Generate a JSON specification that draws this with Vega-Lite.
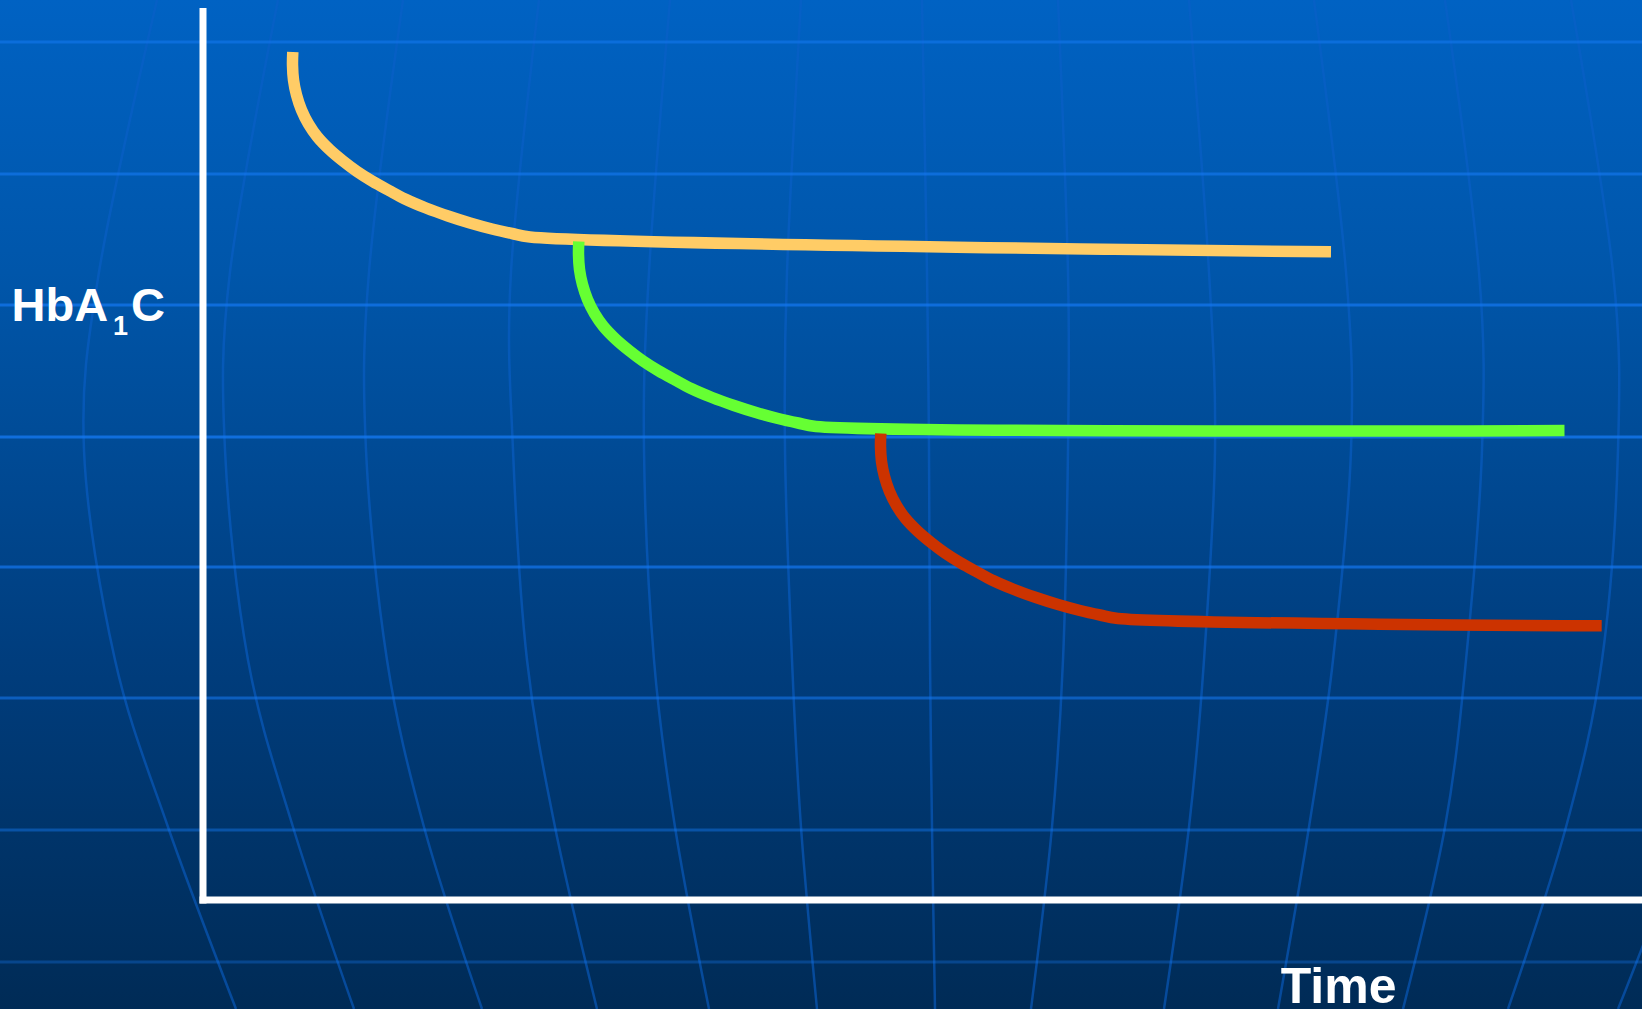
{
  "$schema": "https://vega.github.io/schema/vega-lite/v6.json",
  "width": 1642,
  "height": 1009,
  "autosize": {"type": "none"},
  "padding": 0,
  "background": "#003d7d",
  "config": {"view": {"stroke": null}},
  "datasets": {
    "bg": [{"t": -2.2, "t2": 14.6, "h": -1.25, "h2": 9.2}],
    "hgrid": [{"h": 8.58}, {"h": 7.26}, {"h": 5.95}, {"h": 4.63}, {"h": 3.33}, {"h": 2.02}, {"h": 0.70}, {"h": -0.62}],
    "meridians": [
      {"m": 1, "k": 0, "t": -0.46, "h": 9.0}, {"m": 1, "k": 1, "t": -1.04, "h": 6.28}, {"m": 1, "k": 2, "t": -1.19, "h": 4.5}, {"m": 1, "k": 3, "t": -0.88, "h": 2.4}, {"m": 1, "k": 4, "t": -0.35, "h": 0.73}, {"m": 1, "k": 5, "t": 0.33, "h": -1.09},
      {"m": 2, "k": 0, "t": 0.75, "h": 9.0}, {"m": 2, "k": 1, "t": 0.27, "h": 6.28}, {"m": 2, "k": 2, "t": 0.22, "h": 4.5}, {"m": 2, "k": 3, "t": 0.45, "h": 2.4}, {"m": 2, "k": 4, "t": 0.90, "h": 0.73}, {"m": 2, "k": 5, "t": 1.51, "h": -1.09},
      {"m": 3, "k": 0, "t": 2.00, "h": 9.0}, {"m": 3, "k": 1, "t": 1.66, "h": 6.28}, {"m": 3, "k": 2, "t": 1.63, "h": 4.5}, {"m": 3, "k": 3, "t": 1.84, "h": 2.4}, {"m": 3, "k": 4, "t": 2.21, "h": 0.73}, {"m": 3, "k": 5, "t": 2.79, "h": -1.09},
      {"m": 4, "k": 0, "t": 3.36, "h": 9.0}, {"m": 4, "k": 1, "t": 3.08, "h": 6.28}, {"m": 4, "k": 2, "t": 3.10, "h": 4.5}, {"m": 4, "k": 3, "t": 3.24, "h": 2.4}, {"m": 4, "k": 4, "t": 3.52, "h": 0.73}, {"m": 4, "k": 5, "t": 3.94, "h": -1.09},
      {"m": 5, "k": 0, "t": 4.67, "h": 9.0}, {"m": 5, "k": 1, "t": 4.46, "h": 6.28}, {"m": 5, "k": 2, "t": 4.41, "h": 4.5}, {"m": 5, "k": 3, "t": 4.51, "h": 2.4}, {"m": 5, "k": 4, "t": 4.72, "h": 0.73}, {"m": 5, "k": 5, "t": 5.06, "h": -1.09},
      {"m": 6, "k": 0, "t": 5.98, "h": 9.0}, {"m": 6, "k": 1, "t": 5.84, "h": 6.28}, {"m": 6, "k": 2, "t": 5.82, "h": 4.5}, {"m": 6, "k": 3, "t": 5.89, "h": 2.4}, {"m": 6, "k": 4, "t": 5.98, "h": 0.73}, {"m": 6, "k": 5, "t": 6.14, "h": -1.09},
      {"m": 7, "k": 0, "t": 7.19, "h": 9.0}, {"m": 7, "k": 1, "t": 7.24, "h": 6.28}, {"m": 7, "k": 2, "t": 7.26, "h": 4.5}, {"m": 7, "k": 3, "t": 7.27, "h": 2.4}, {"m": 7, "k": 4, "t": 7.29, "h": 0.73}, {"m": 7, "k": 5, "t": 7.32, "h": -1.09},
      {"m": 8, "k": 0, "t": 8.55, "h": 9.0}, {"m": 8, "k": 1, "t": 8.65, "h": 6.28}, {"m": 8, "k": 2, "t": 8.65, "h": 4.5}, {"m": 8, "k": 3, "t": 8.60, "h": 2.4}, {"m": 8, "k": 4, "t": 8.49, "h": 0.73}, {"m": 8, "k": 5, "t": 8.28, "h": -1.09},
      {"m": 9, "k": 0, "t": 9.86, "h": 9.0}, {"m": 9, "k": 1, "t": 10.06, "h": 6.28}, {"m": 9, "k": 2, "t": 10.12, "h": 4.5}, {"m": 9, "k": 3, "t": 10.01, "h": 2.4}, {"m": 9, "k": 4, "t": 9.86, "h": 0.73}, {"m": 9, "k": 5, "t": 9.61, "h": -1.09},
      {"m": 10, "k": 0, "t": 11.11, "h": 9.0}, {"m": 10, "k": 1, "t": 11.43, "h": 6.28}, {"m": 10, "k": 2, "t": 11.48, "h": 4.5}, {"m": 10, "k": 3, "t": 11.30, "h": 2.4}, {"m": 10, "k": 4, "t": 11.06, "h": 0.73}, {"m": 10, "k": 5, "t": 10.75, "h": -1.09},
      {"m": 11, "k": 0, "t": 12.42, "h": 9.0}, {"m": 11, "k": 1, "t": 12.76, "h": 6.28}, {"m": 11, "k": 2, "t": 12.79, "h": 4.5}, {"m": 11, "k": 3, "t": 12.63, "h": 2.4}, {"m": 11, "k": 4, "t": 12.42, "h": 0.73}, {"m": 11, "k": 5, "t": 12.00, "h": -1.09},
      {"m": 12, "k": 0, "t": 13.68, "h": 9.0}, {"m": 12, "k": 1, "t": 14.10, "h": 6.28}, {"m": 12, "k": 2, "t": 14.15, "h": 4.5}, {"m": 12, "k": 3, "t": 13.99, "h": 2.4}, {"m": 12, "k": 4, "t": 13.63, "h": 0.73}, {"m": 12, "k": 5, "t": 13.05, "h": -1.09},
      {"m": 13, "k": 0, "t": 14.93, "h": 9.0}, {"m": 13, "k": 1, "t": 15.35, "h": 6.28}, {"m": 13, "k": 2, "t": 15.41, "h": 4.5}, {"m": 13, "k": 3, "t": 15.25, "h": 2.4}, {"m": 13, "k": 4, "t": 14.83, "h": 0.73}, {"m": 13, "k": 5, "t": 14.15, "h": -1.09}
    ],
    "axes": [
      {"t": 0, "t2": 0, "h": -0.035, "h2": 8.92},
      {"t": -0.035, "t2": 14.6, "h": 0, "h2": 0}
    ],
    "curves": [
      {"series": "first", "i": 0, "t": 0.898, "h": 8.48},
      {"series": "first", "i": 1, "t": 0.895, "h": 8.35},
      {"series": "first", "i": 2, "t": 0.905, "h": 8.20},
      {"series": "first", "i": 3, "t": 0.935, "h": 8.05},
      {"series": "first", "i": 4, "t": 0.985, "h": 7.90},
      {"series": "first", "i": 5, "t": 1.055, "h": 7.76},
      {"series": "first", "i": 6, "t": 1.145, "h": 7.63},
      {"series": "first", "i": 7, "t": 1.27, "h": 7.50},
      {"series": "first", "i": 8, "t": 1.40, "h": 7.39},
      {"series": "first", "i": 9, "t": 1.54, "h": 7.285},
      {"series": "first", "i": 10, "t": 1.69, "h": 7.19},
      {"series": "first", "i": 11, "t": 1.86, "h": 7.095},
      {"series": "first", "i": 12, "t": 2.02, "h": 7.01},
      {"series": "first", "i": 13, "t": 2.23, "h": 6.92},
      {"series": "first", "i": 14, "t": 2.45, "h": 6.84},
      {"series": "first", "i": 15, "t": 2.67, "h": 6.77},
      {"series": "first", "i": 16, "t": 2.89, "h": 6.71},
      {"series": "first", "i": 17, "t": 3.09, "h": 6.665},
      {"series": "first", "i": 18, "t": 3.27, "h": 6.63},
      {"series": "first", "i": 19, "t": 11.28, "h": 6.482},
      {"series": "second", "i": 0, "t": 3.758, "h": 6.585},
      {"series": "second", "i": 1, "t": 3.755, "h": 6.455},
      {"series": "second", "i": 2, "t": 3.765, "h": 6.305},
      {"series": "second", "i": 3, "t": 3.795, "h": 6.155},
      {"series": "second", "i": 4, "t": 3.845, "h": 6.005},
      {"series": "second", "i": 5, "t": 3.915, "h": 5.865},
      {"series": "second", "i": 6, "t": 4.005, "h": 5.735},
      {"series": "second", "i": 7, "t": 4.13, "h": 5.605},
      {"series": "second", "i": 8, "t": 4.26, "h": 5.495},
      {"series": "second", "i": 9, "t": 4.40, "h": 5.39},
      {"series": "second", "i": 10, "t": 4.55, "h": 5.295},
      {"series": "second", "i": 11, "t": 4.72, "h": 5.20},
      {"series": "second", "i": 12, "t": 4.88, "h": 5.115},
      {"series": "second", "i": 13, "t": 5.09, "h": 5.025},
      {"series": "second", "i": 14, "t": 5.31, "h": 4.945},
      {"series": "second", "i": 15, "t": 5.53, "h": 4.875},
      {"series": "second", "i": 16, "t": 5.75, "h": 4.815},
      {"series": "second", "i": 17, "t": 5.95, "h": 4.77},
      {"series": "second", "i": 18, "t": 6.13, "h": 4.735},
      {"series": "second", "i": 19, "t": 13.615, "h": 4.695},
      {"series": "third", "i": 0, "t": 6.778, "h": 4.665},
      {"series": "third", "i": 1, "t": 6.775, "h": 4.535},
      {"series": "third", "i": 2, "t": 6.785, "h": 4.385},
      {"series": "third", "i": 3, "t": 6.815, "h": 4.235},
      {"series": "third", "i": 4, "t": 6.865, "h": 4.085},
      {"series": "third", "i": 5, "t": 6.935, "h": 3.945},
      {"series": "third", "i": 6, "t": 7.025, "h": 3.815},
      {"series": "third", "i": 7, "t": 7.15, "h": 3.685},
      {"series": "third", "i": 8, "t": 7.28, "h": 3.575},
      {"series": "third", "i": 9, "t": 7.42, "h": 3.47},
      {"series": "third", "i": 10, "t": 7.57, "h": 3.375},
      {"series": "third", "i": 11, "t": 7.74, "h": 3.28},
      {"series": "third", "i": 12, "t": 7.90, "h": 3.195},
      {"series": "third", "i": 13, "t": 8.11, "h": 3.105},
      {"series": "third", "i": 14, "t": 8.33, "h": 3.025},
      {"series": "third", "i": 15, "t": 8.55, "h": 2.955},
      {"series": "third", "i": 16, "t": 8.77, "h": 2.895},
      {"series": "third", "i": 17, "t": 8.97, "h": 2.85},
      {"series": "third", "i": 18, "t": 9.15, "h": 2.815},
      {"series": "third", "i": 19, "t": 13.987, "h": 2.742}
    ],
    "bigLabels": [
      {"label": "HbA", "t": -1.914, "h": 5.79},
      {"label": "C", "t": -0.72, "h": 5.79}
    ],
    "subLabels": [{"label": "1", "t": -0.90, "h": 5.65}],
    "timeLabel": [{"label": "Time", "t": 10.777, "h": -1.03}]
  },
  "layer": [
    {
      "data": {"name": "bg"},
      "mark": {
        "type": "rect",
        "clip": true,
        "color": {
          "gradient": "linear",
          "x1": 0, "y1": 0, "x2": 0, "y2": 1,
          "stops": [
            {"offset": 0.019, "color": "#0062C3"},
            {"offset": 0.279, "color": "#0056AA"},
            {"offset": 0.651, "color": "#003D7D"},
            {"offset": 0.985, "color": "#002B56"}
          ]
        }
      },
      "encoding": {
        "x": {"field": "t", "type": "quantitative", "scale": {"domain": [-2.03, 14.39], "nice": false, "zero": false}, "axis": null},
        "x2": {"field": "t2"},
        "y": {"field": "h", "type": "quantitative", "scale": {"domain": [-1.09, 9.0], "nice": false, "zero": false}, "axis": null},
        "y2": {"field": "h2"}
      }
    },
    {
      "data": {"name": "meridians"},
      "mark": {"type": "line", "clip": true, "interpolate": "cardinal", "stroke": "#0A5FC8", "strokeOpacity": 0.6, "strokeWidth": 2.5},
      "encoding": {
        "x": {"field": "t", "type": "quantitative", "scale": {"domain": [-2.03, 14.39], "nice": false, "zero": false}, "axis": null},
        "y": {"field": "h", "type": "quantitative", "scale": {"domain": [-1.09, 9.0], "nice": false, "zero": false}, "axis": null},
        "detail": {"field": "m", "type": "nominal"},
        "order": {"field": "k", "type": "quantitative"}
      }
    },
    {
      "data": {"name": "hgrid"},
      "mark": {"type": "rule", "stroke": "#1478F0", "strokeWidth": 3},
      "encoding": {
        "y": {"field": "h", "type": "quantitative", "scale": {"domain": [-1.09, 9.0], "nice": false, "zero": false}, "axis": null},
        "strokeOpacity": {"field": "h", "type": "quantitative", "scale": {"type": "linear", "domain": [-1, 4.5, 9], "range": [0.3, 0.8, 0.55]}, "legend": null}
      }
    },
    {
      "data": {"name": "axes"},
      "mark": {"type": "rule", "stroke": "#FFFFFF", "strokeWidth": 7, "clip": true},
      "encoding": {
        "x": {"field": "t", "type": "quantitative", "scale": {"domain": [-2.03, 14.39], "nice": false, "zero": false}, "axis": null},
        "x2": {"field": "t2"},
        "y": {"field": "h", "type": "quantitative", "scale": {"domain": [-1.09, 9.0], "nice": false, "zero": false}, "axis": null},
        "y2": {"field": "h2"}
      }
    },
    {
      "data": {"name": "curves"},
      "mark": {"type": "line", "strokeWidth": 11.5, "interpolate": "catmull-rom", "strokeCap": "butt"},
      "encoding": {
        "x": {"field": "t", "type": "quantitative", "scale": {"domain": [-2.03, 14.39], "nice": false, "zero": false}, "axis": null},
        "y": {"field": "h", "type": "quantitative", "scale": {"domain": [-1.09, 9.0], "nice": false, "zero": false}, "axis": null},
        "order": {"field": "i", "type": "quantitative"},
        "color": {"field": "series", "type": "nominal", "scale": {"domain": ["first", "second", "third"], "range": ["#FFCC66", "#66FF33", "#CC3300"]}, "legend": null}
      }
    },
    {
      "data": {"name": "bigLabels"},
      "mark": {"type": "text", "font": "Liberation Sans", "fontWeight": "bold", "fontSize": 47, "color": "#FFFFFF", "align": "left", "baseline": "alphabetic"},
      "encoding": {
        "x": {"field": "t", "type": "quantitative", "scale": {"domain": [-2.03, 14.39], "nice": false, "zero": false}, "axis": null},
        "y": {"field": "h", "type": "quantitative", "scale": {"domain": [-1.09, 9.0], "nice": false, "zero": false}, "axis": null},
        "text": {"field": "label", "type": "nominal"}
      }
    },
    {
      "data": {"name": "subLabels"},
      "mark": {"type": "text", "font": "Liberation Sans", "fontWeight": "bold", "fontSize": 27, "color": "#FFFFFF", "align": "left", "baseline": "alphabetic"},
      "encoding": {
        "x": {"field": "t", "type": "quantitative", "scale": {"domain": [-2.03, 14.39], "nice": false, "zero": false}, "axis": null},
        "y": {"field": "h", "type": "quantitative", "scale": {"domain": [-1.09, 9.0], "nice": false, "zero": false}, "axis": null},
        "text": {"field": "label", "type": "nominal"}
      }
    },
    {
      "data": {"name": "timeLabel"},
      "mark": {"type": "text", "font": "Liberation Sans", "fontWeight": "bold", "fontSize": 50, "color": "#FFFFFF", "align": "left", "baseline": "alphabetic"},
      "encoding": {
        "x": {"field": "t", "type": "quantitative", "scale": {"domain": [-2.03, 14.39], "nice": false, "zero": false}, "axis": null},
        "y": {"field": "h", "type": "quantitative", "scale": {"domain": [-1.09, 9.0], "nice": false, "zero": false}, "axis": null},
        "text": {"field": "label", "type": "nominal"}
      }
    }
  ]
}
